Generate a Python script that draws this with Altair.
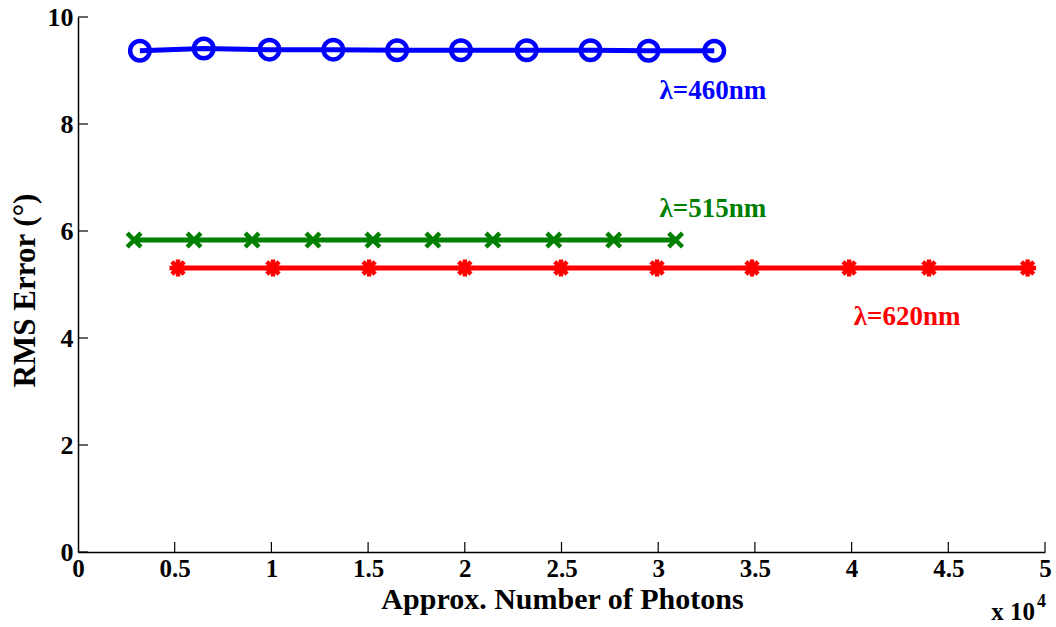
import altair as alt
import pandas as pd

# ---- data ----
blue_x = [0.32, 0.65, 0.99, 1.32, 1.65, 1.98, 2.32, 2.65, 2.95, 3.29]
blue_y = [9.37, 9.41, 9.39, 9.39, 9.38, 9.38, 9.38, 9.38, 9.37, 9.37]
green_x = [0.29, 0.60, 0.90, 1.215, 1.525, 1.835, 2.145, 2.46, 2.77, 3.09]
green_y = [5.83, 5.83, 5.83, 5.83, 5.83, 5.83, 5.83, 5.83, 5.83, 5.83]
red_x = [0.517, 1.008, 1.505, 2.0, 2.497, 2.994, 3.485, 3.987, 4.40, 4.91]
red_y = [5.31, 5.31, 5.31, 5.31, 5.31, 5.31, 5.31, 5.31, 5.31, 5.31]

series_names = ["460", "515", "620"]
series_colors = ["#0000FF", "#008000", "#FF0000"]

label_text = ["λ=460nm", "λ=515nm", "λ=620nm"]
label_x = [3.283, 3.283, 4.287]
label_y = [8.62, 6.42, 4.40]

x_ticks = [0, 0.5, 1, 1.5, 2, 2.5, 3, 3.5, 4, 4.5, 5]
y_ticks = [0, 2, 4, 6, 8, 10]

FONT = "Liberation Serif"
W, H = 967, 535

df = pd.concat([
    pd.DataFrame({"x": blue_x, "y": blue_y, "s": "460"}),
    pd.DataFrame({"x": green_x, "y": green_y, "s": "515"}),
    pd.DataFrame({"x": red_x, "y": red_y, "s": "620"}),
])
labels = pd.DataFrame({"t": label_text, "x": label_x, "y": label_y, "s": series_names})

xs = alt.Scale(domain=[0, 5], nice=False, zero=False)
ys = alt.Scale(domain=[0, 10], nice=False, zero=False)
cs = alt.Scale(domain=series_names, range=series_colors)

x_axis = alt.Axis(values=x_ticks, format="~g", grid=False, ticks=False, domainColor="black", domainWidth=1.5,
                  labelFont=FONT, labelFontSize=25, labelFontWeight="bold", labelColor="black",
                  labelPadding=4, labelFlush=False,
                  title="Approx. Number of Photons", titleFont=FONT, titleFontSize=30,
                  titleFontWeight="bold", titleColor="black",
                  titleX=W / 2 + 0.5, titleY=56, titleBaseline="alphabetic")
y_axis = alt.Axis(values=y_ticks, format="d", grid=False, ticks=False, domainColor="black", domainWidth=1.5,
                  labelFont=FONT, labelFontSize=26, labelFontWeight="bold", labelColor="black",
                  labelPadding=5, labelFlush=False,
                  title="RMS Error (°)", titleFont=FONT, titleFontSize=31,
                  titleFontWeight="bold", titleColor="black",
                  titleX=-53, titleY=273, titleBaseline="middle")

base = alt.Chart(df)
lines = base.mark_line(strokeWidth=5).encode(
    x=alt.X("x:Q", scale=xs, axis=x_axis),
    y=alt.Y("y:Q", scale=ys, axis=y_axis),
    color=alt.Color("s:N", scale=cs, legend=None),
    detail="s:N",
)

enc = dict(x=alt.X("x:Q", scale=xs), y=alt.Y("y:Q", scale=ys),
           color=alt.Color("s:N", scale=cs, legend=None))

circ = base.transform_filter(alt.datum.s == "460").mark_point(
    shape="circle", size=380, strokeWidth=4.5, filled=False, opacity=1
).encode(**enc)

crs = base.transform_filter(alt.datum.s == "515").mark_point(
    shape="M-1,-1L1,1M-1,1L1,-1", size=190, strokeWidth=4.5, filled=False, opacity=1
).encode(**enc)

ast = base.transform_filter(alt.datum.s == "620").mark_point(
    shape="M-1,0L1,0M0,-1L0,1M-0.72,-0.72L0.72,0.72M-0.72,0.72L0.72,-0.72",
    size=290, strokeWidth=4.5, filled=False, opacity=1
).encode(**enc)

txt = alt.Chart(labels).mark_text(font=FONT, fontSize=27, fontWeight="bold", baseline="middle").encode(
    x=alt.X("x:Q", scale=xs), y=alt.Y("y:Q", scale=ys), text="t:N",
    color=alt.Color("s:N", scale=cs, legend=None),
)

# inward tick marks
xt = alt.Chart(pd.DataFrame({"v": x_ticks[1:]})).mark_rule(color="black", strokeWidth=1.2).encode(
    x=alt.X("v:Q", scale=xs), y=alt.value(H), y2=alt.value(H - 10))
yt = alt.Chart(pd.DataFrame({"v": y_ticks})).mark_rule(color="black", strokeWidth=1.2).encode(
    y=alt.Y("v:Q", scale=ys), x=alt.value(0), x2=alt.value(10))

# exponent annotation
exp_base = alt.Chart(pd.DataFrame({"t": ["x 10"]})).mark_text(
    font=FONT, fontSize=25, fontWeight="bold", align="right", baseline="alphabetic", color="black"
).encode(x=alt.value(W - 10), y=alt.value(H + 68), text="t:N")
exp_pow = alt.Chart(pd.DataFrame({"t": ["4"]})).mark_text(
    font=FONT, fontSize=18, fontWeight="bold", align="left", baseline="alphabetic", color="black"
).encode(x=alt.value(W - 8), y=alt.value(H + 55), text="t:N")

chart = alt.layer(lines, circ, crs, ast, txt, xt, yt, exp_base, exp_pow).properties(
    width=W, height=H,
    autosize=alt.AutoSizeParams(type="none"),
    padding={"left": 78, "top": 17, "right": 11, "bottom": 75},
    background="white",
).configure_view(stroke=None)

chart.save("out.html", embed_options={"renderer": "svg", "actions": False})
